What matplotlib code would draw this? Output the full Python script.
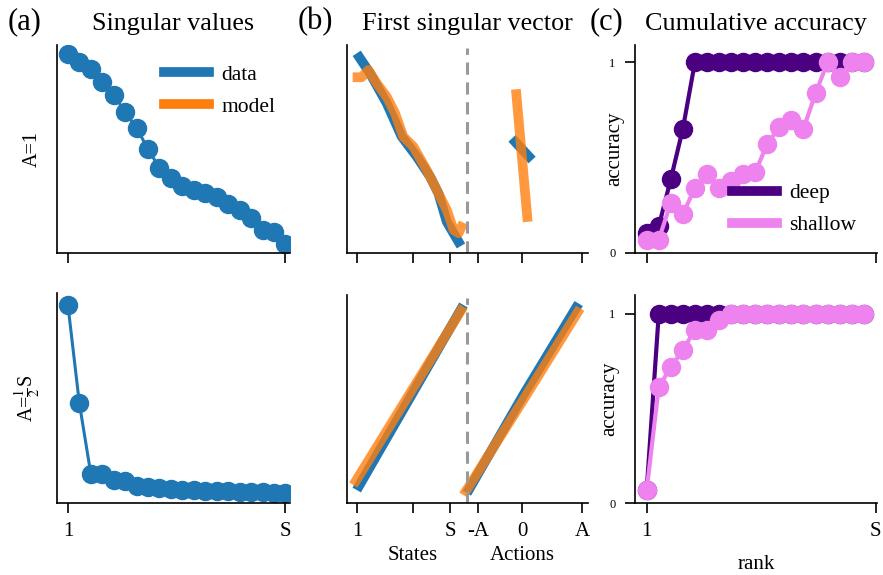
import numpy as np
import matplotlib
matplotlib.use('Agg')
import matplotlib.pyplot as plt
import matplotlib.transforms as mtransforms

plt.rcParams['font.family'] = ['Liberation Serif', 'DejaVu Serif']
plt.rcParams['mathtext.fontset'] = 'stix'

blue = '#1f77b4'
orange = '#ff7f0e'
c_deep = '#4b0082'
c_shallow = '#ee82ee'

# (a) singular values, 20 ranks
sv_rank = np.arange(1, 21)
sv_a1 = [5.98, 5.75, 5.52, 5.15, 4.75, 4.25, 3.75, 3.13, 2.55, 2.25,
         2.02, 1.90, 1.80, 1.67, 1.47, 1.30, 1.05, 0.70, 0.63, 0.27]
sv_ahalf = [5.95, 3.00, 0.88, 0.86, 0.70, 0.65, 0.50, 0.47, 0.45, 0.42,
            0.40, 0.38, 0.37, 0.36, 0.35, 0.34, 0.33, 0.32, 0.31, 0.30]

# (b) first singular vector, x in state units (states then actions)
b_ticks = [1, 12.4, 20, 25.7, 34.7, 46.9]
b_ticklabels = ['1', '', 'S', '-A', '0', 'A']
b_split = 23.4
# A=1
st_data_x = [0.94, 3.65, 7.06, 10.1, 13.2, 15.9, 17.6, 19.3, 22.2]
st_data_y = [0.96, 0.864, 0.72, 0.56, 0.463, 0.367, 0.287, 0.15, 0.034]
st_model_x = [0.12, 1.96, 3.31, 5.02, 7.06, 8.76, 10.45, 12.5, 15.2, 17.6, 19.3, 20.7, 21.7, 22.7]
st_model_y = [0.845, 0.845, 0.88, 0.816, 0.751, 0.672, 0.559, 0.511, 0.399, 0.287, 0.207, 0.111, 0.095, 0.146]
ac_data_x = [32.6, 36.7]
ac_data_y = [0.551, 0.447]
ac_model_x = [33.4, 35.8]
ac_model_y = [0.787, 0.15]
# A=S/2
st2_data_x = [0.94, 22.7]
st2_data_y = [0.0625, 0.952]
st2_model_x = [0.25, 22.7]
st2_model_y = [0.0865, 0.944]
ac2_data_x = [23.4, 34.9, 46.2]
ac2_data_y = [0.047, 0.519, 0.959]
ac2_model_x = [22.7, 34.9, 46.5]
ac2_model_y = [0.038, 0.495, 0.936]

# (c) cumulative accuracy, ranks 1..19
acc_rank = np.arange(1, 20)
deep_top = [0.105, 0.14, 0.387, 0.651, 1, 1, 1, 1, 1, 1, 1, 1, 1, 1, 1, 1, 1, 1, 1]
shallow_top = [0.07, 0.07, 0.264, 0.202, 0.343, 0.414, 0.343, 0.379, 0.414, 0.423,
               0.572, 0.66, 0.695, 0.651, 0.836, 1.0, 0.924, 1.0, 1.0]
deep_bot = [0.07, 1, 1, 1, 1, 1, 1, 1, 1, 1, 1, 1, 1, 1, 1, 1, 1, 1, 1]
shallow_bot = [0.07, 0.613, 0.718, 0.81, 0.915, 0.915, 0.97, 1, 1, 1,
               1, 1, 1, 1, 1, 1, 1, 1, 1]

fig = plt.figure(figsize=(8.83, 5.75), dpi=100)
W, H = 883, 575
def box(x0, x1, y0, y1):
    return [x0 / W, 1 - y1 / H, (x1 - x0) / W, (y1 - y0) / H]

axA1 = fig.add_axes(box(57, 290, 45, 253))
axA2 = fig.add_axes(box(57, 290, 293, 503))
axB1 = fig.add_axes(box(347, 588, 45, 253))
axB2 = fig.add_axes(box(347, 588, 295, 503))
axC1 = fig.add_axes(box(635, 877, 45, 253))
axC2 = fig.add_axes(box(635, 877, 295, 503))

for ax in [axA1, axA2, axB1, axB2, axC1, axC2]:
    ax.spines['top'].set_visible(False)
    ax.spines['right'].set_visible(False)
    ax.spines['left'].set_linewidth(1.2)
    ax.spines['bottom'].set_linewidth(1.2)
    ax.tick_params(length=7, width=1.2, labelsize=15, pad=7)

legkw = dict(loc='upper left', frameon=False, fontsize=15.5, borderpad=0, borderaxespad=0,
             handlelength=2.1, handletextpad=0.55, labelspacing=0.55)

# (a)
axA1.plot(sv_rank, sv_a1, 'o-', color=blue, ms=13, lw=2.2)
axA2.plot(sv_rank, sv_ahalf, 'o-', color=blue, ms=13, lw=2.2)
axA1.set_ylim(0, 6.25)
axA2.set_ylim(0, 6.3)
for ax in [axA1, axA2]:
    ax.set_xlim(0.05, 20.4)
    ax.set_yticks([])
    ax.set_xticks([1, 20])
axA1.set_xticklabels(['', ''])
axA2.set_xticklabels(['1', 'S'])
axA1.set_ylabel('A=1', fontsize=14.5)
axA2.set_ylabel(r'A=$\frac{1}{2}$S', fontsize=14.5)
axA1.yaxis.set_label_coords(-0.065, 0.5)
axA2.yaxis.set_label_coords(-0.06, 0.5)
axA1.set_title('Singular values', fontsize=18.8, pad=11)
axA1.plot([], [], color=blue, lw=7, label='data')
axA1.plot([], [], color=orange, lw=7, label='model')
axA1.legend(bbox_to_anchor=(0.46, 0.905), **legkw)

# (b)
axB1.plot(st_data_x, st_data_y, color=blue, lw=7, solid_capstyle='butt')
axB1.plot(ac_data_x, ac_data_y, color=blue, lw=7, solid_capstyle='butt')
axB1.plot(st_model_x, st_model_y, color=orange, lw=7, alpha=0.8, solid_capstyle='butt')
axB1.plot(ac_model_x, ac_model_y, color=orange, lw=7, alpha=0.8, solid_capstyle='butt')
axB2.plot(st2_data_x, st2_data_y, color=blue, lw=7, solid_capstyle='butt')
axB2.plot(ac2_data_x, ac2_data_y, color=blue, lw=7, solid_capstyle='butt')
axB2.plot(st2_model_x, st2_model_y, color=orange, lw=7, alpha=0.8, solid_capstyle='butt')
axB2.plot(ac2_model_x, ac2_model_y, color=orange, lw=7, alpha=0.8, solid_capstyle='butt')
for ax in [axB1, axB2]:
    ax.axvline(b_split, color='#999999', lw=2.2, ls=(0, (4, 2.5)), ymax=0.985)
    ax.set_xlim(-1.04, 48.1)
    ax.set_ylim(0, 1)
    ax.set_yticks([])
    ax.set_xticks(b_ticks)
axB1.set_xticklabels(['' for t in b_ticks])
axB2.set_xticklabels(b_ticklabels)
trans = mtransforms.blended_transform_factory(axB2.transData, axB2.transAxes)
axB2.text(12.4, -0.25, 'States', transform=trans, ha='center', va='center', fontsize=15)
axB2.text(34.7, -0.25, 'Actions', transform=trans, ha='center', va='center', fontsize=15)
axB1.set_title('First singular vector', fontsize=18.8, pad=11)

# (c)
axC1.plot(acc_rank, deep_top, 'o-', color=c_deep, ms=13, lw=3, label='deep')
axC1.plot(acc_rank, shallow_top, 'o-', color=c_shallow, ms=13, lw=3, label='shallow')
axC2.plot(acc_rank, deep_bot, 'o-', color=c_deep, ms=13, lw=3)
axC2.plot(acc_rank, shallow_bot, 'o-', color=c_shallow, ms=13, lw=3)
axC1.set_ylim(0, 1.09)
axC2.set_ylim(0, 1.1)
for ax in [axC1, axC2]:
    ax.set_xlim(0.03, 20.1)
    ax.set_yticks([0, 1])
    ax.set_yticklabels(['0', '1'])
    ax.tick_params(axis='y', labelsize=9, pad=7)
    ax.set_xticks([1, 20])
    ax.set_ylabel('accuracy', fontsize=15)
axC1.set_xticklabels(['', ''])
axC2.set_xticklabels(['1', 'S'])
axC1.yaxis.set_label_coords(-0.045, 0.5)
axC2.yaxis.set_label_coords(-0.065, 0.5)
axC2.set_xlabel('rank', fontsize=15)
axC2.xaxis.set_label_coords(0.5, -0.25)
axC1.set_title('Cumulative accuracy', fontsize=18.8, pad=11)
leg = axC1.legend(bbox_to_anchor=(0.40, 0.335), **legkw)
for h in leg.legend_handles:
    h.set_marker('')
    h.set_linewidth(7)

fig.text(8 / W, 1 - 29 / H, '(a)', fontsize=22, va='baseline')
fig.text(298 / W, 1 - 29 / H, '(b)', fontsize=22, va='baseline')
fig.text(590 / W, 1 - 29 / H, '(c)', fontsize=22, va='baseline')

fig.savefig('out.png', dpi=100)
